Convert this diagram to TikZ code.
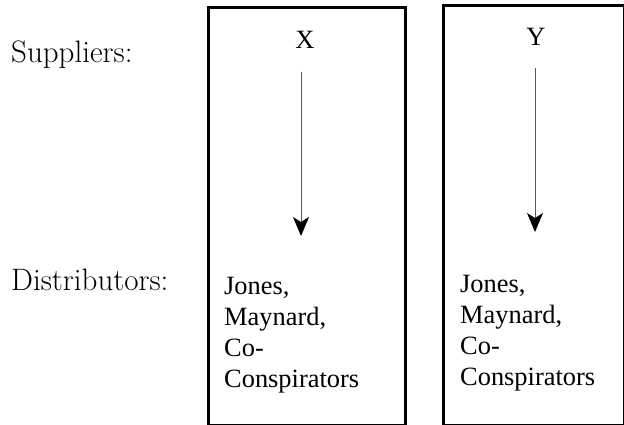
\documentclass[tikz,border=0pt]{standalone}
\usepackage{fontspec}
\newfontfamily\timesf{Liberation Serif}
\usetikzlibrary{arrows.meta}
\begin{document}
\begin{tikzpicture}[x=1pt,y=-1pt,
  box/.style={draw=black,line width=3pt,inner sep=0pt,anchor=north west},
  lab/.style={inner sep=0pt,anchor=base west,font=\fontsize{31}{33}\selectfont},
  sup/.style={inner sep=0pt,font=\timesf\fontsize{26.4}{31}\selectfont},
  dist/.style={inner sep=0pt,anchor=base west,align=left,font=\timesf\fontsize{26.4}{31}\selectfont},
  flow/.style={draw=black!65,line width=1pt,-{Stealth[length=19pt,width=16pt,inset=5pt,black]}}]
\useasboundingbox (0,0) rectangle (624,425);
\node[box,minimum width=197pt,minimum height=417pt] (b1) at (206.5,6.5) {};
\node[box,minimum width=181pt,minimum height=419pt] (b2) at (441.5,4.5) {};
\node[lab] (suppliers) at (11,63) {Suppliers:};
\node[lab] (distributors) at (11,290) {Distributors:};
\node[sup] (x) at (305,40) {X};
\node[sup] (y) at (536,37) {Y};
\node[dist] (d1) at (224,387) {Jones,\\Maynard,\\Co-\\Conspirators};
\node[dist] (d2) at (460,385) {Jones,\\Maynard,\\Co-\\Conspirators};
\coordinate (a1s) at (301,72);
\coordinate (a1e) at (301,236);
\coordinate (a2s) at (535,68);
\coordinate (a2e) at (535,232);
\draw[flow] (a1s) -- (a1e);
\draw[flow] (a2s) -- (a2e);
\end{tikzpicture}
\end{document}
